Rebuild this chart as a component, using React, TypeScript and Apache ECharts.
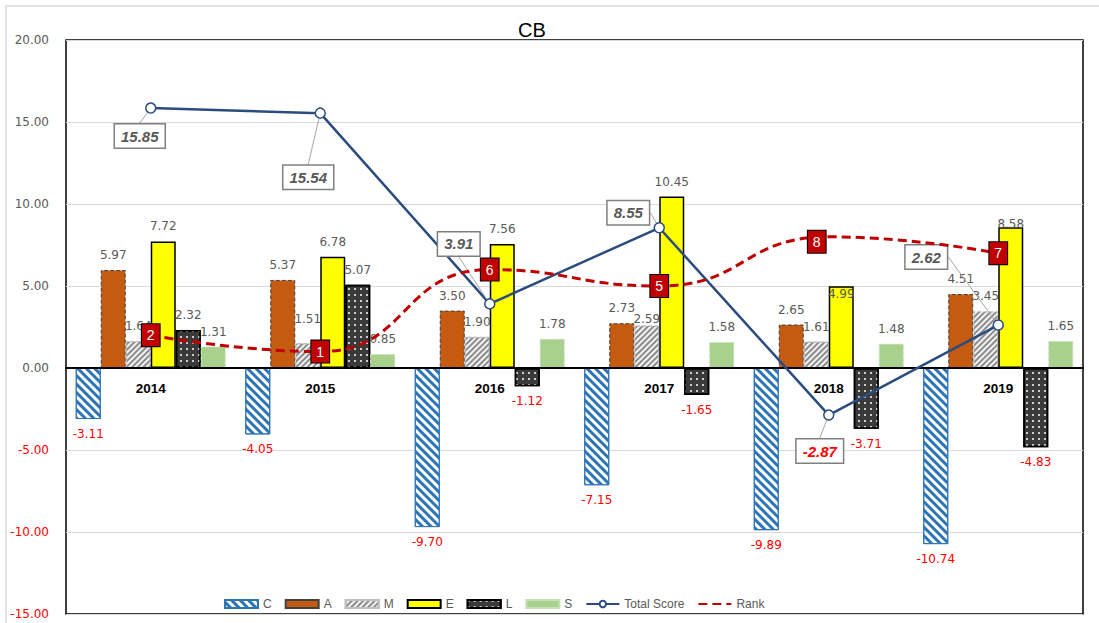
import React, { useEffect, useRef } from 'react';
import * as echarts from 'echarts';

// ---- data ----
const years = ['2014', '2015', '2016', '2017', '2018', '2019'];
const cValues = [-3.11, -4.05, -9.7, -7.15, -9.89, -10.74];
const aValues = [5.97, 5.37, 3.5, 2.73, 2.65, 4.51];
const mValues = [1.64, 1.51, 1.9, 2.59, 1.61, 3.45];
const eValues = [7.72, 6.78, 7.56, 10.45, 4.99, 8.58];
const lValues = [2.32, 5.07, -1.12, -1.65, -3.71, -4.83];
const sValues = [1.31, 0.85, 1.78, 1.58, 1.48, 1.65];
const totalScore = [15.85, 15.54, 3.91, 8.55, -2.87, 2.62];
const rankValues = [2, 1, 6, 5, 8, 7];
const yMin = -15;
const yMax = 20;
const yStep = 5;

// ---- label placement tweaks (styling, not data) ----
const totalLabelShift: number[][] = [[-11, 28], [-12, 64], [-31, -60], [-31, -15], [-9, 36], [-72, -68]];
const rankLabelShift: number[][] = [[0, 0], [0, 0], [0, 0], [0, 0], [-12, 5], [0, 0]];
const mNudge: Record<number, number[]> = { 1: [0, -9], 3: [0, 8] };
const eNudge: Record<number, number[]> = { 4: [0, 23], 5: [0, 12] };

const NAVY = '#2B4C7E';
const RED = '#C00000';
const GRAY_TXT = '#595959';
const GRID_TOP = 40;
const GRID_BOTTOM = 9;
const CHART_H = 623;

const fmt2 = (v: any) => Number(v).toFixed(2);

function barSeries(name: string, values: number[], itemStyle: any, nudges: Record<number, number[]> = {}) {
  return {
    type: 'bar',
    name,
    barWidth: 25,
    barGap: '0%',
    z: 2,
    itemStyle,
    label: {
      show: true,
      fontFamily: 'DejaVu Sans',
      fontSize: 12,
      distance: 9,
      formatter: (p: any) => fmt2(p.value),
    },
    data: values.map((v, i) => ({
      value: v,
      label: {
        position: v < 0 ? 'bottom' : 'top',
        color: v < 0 ? '#FF0000' : GRAY_TXT,
        offset: nudges[i] || [0, 0],
      },
    })),
  };
}

export default function App() {
  const ref = useRef<HTMLDivElement>(null);
  useEffect(() => {
    if (!ref.current) return;
    const chart = echarts.init(ref.current, undefined, { renderer: 'svg' });
    // category labels sit just under the zero line (ECharts 6 keeps them at the grid edge)
    const plotH = CHART_H - GRID_TOP - GRID_BOTTOM;
    const zeroFromBottom = (-yMin / (yMax - yMin)) * plotH;
    const option: any = {
      animation: false,
      backgroundColor: '#fff',
      title: {
        text: 'CB',
        left: 527,
        top: 15,
        textAlign: 'center',
        textStyle: { fontSize: 20, fontWeight: 'normal', color: '#000', fontFamily: 'Liberation Sans' },
      },
      graphic: [
        {
          type: 'rect',
          silent: true,
          z: -10,
          shape: { x: 6, y: 6, width: 1100, height: 620 },
          style: { fill: 'none', stroke: '#D9D9D9', lineWidth: 1.5 },
        },
      ],
      legend: {
        left: 219,
        top: 593,
        itemWidth: 33,
        itemHeight: 8,
        itemGap: 13,
        textStyle: { color: GRAY_TXT, fontSize: 12, fontFamily: 'Liberation Sans' },
        data: [
          { name: 'C', icon: 'rect' },
          { name: 'A', icon: 'rect' },
          { name: 'M', icon: 'rect' },
          { name: 'E', icon: 'rect' },
          { name: 'L', icon: 'rect' },
          { name: 'S', icon: 'rect' },
          'Total Score',
          { name: 'Rank', itemStyle: { opacity: 0 } },
        ],
      },
      grid: {
        left: 66,
        right: 16,
        top: GRID_TOP,
        bottom: GRID_BOTTOM,
        outerBoundsMode: 'none',
        containLabel: false,
        show: true,
        borderColor: '#000',
        borderWidth: 1.5,
        backgroundColor: 'transparent',
      },
      xAxis: {
        type: 'category',
        data: years,
        z: 3,
        axisLine: { onZero: true, lineStyle: { color: '#000', width: 2 } },
        axisTick: { show: false },
        axisLabel: {
          fontWeight: 'bold',
          fontSize: 13.5,
          color: '#000',
          fontFamily: 'Liberation Sans',
          margin: 13 - zeroFromBottom,
        },
        splitLine: { show: false },
      },
      yAxis: {
        type: 'value',
        min: yMin,
        max: yMax,
        interval: yStep,
        axisLine: { show: false },
        axisTick: { show: false },
        splitLine: { lineStyle: { color: '#D9D9D9', width: 1 } },
        axisLabel: {
          formatter: (v: number) => fmt2(v),
          color: (v: any) => (Number(v) < 0 ? '#FF0000' : GRAY_TXT),
          fontFamily: 'DejaVu Sans',
          fontSize: 12,
          margin: 17,
        },
      },
      series: [
        barSeries('C', cValues, {
          color: '#FFFFFF',
          borderColor: '#2E75B6',
          borderWidth: 1,
          decal: { symbol: 'rect', symbolSize: 1, dashArrayX: [1, 0], dashArrayY: [3, 3], rotation: Math.PI / 4, color: '#2E75B6' },
        }),
        barSeries('A', aValues, {
          color: '#C55A11',
          borderColor: '#404040',
          borderWidth: 1,
          borderType: 'dashed',
        }),
        barSeries('M', mValues, {
          color: '#F2F2F2',
          borderColor: '#BFBFBF',
          borderWidth: 1,
          borderType: 'dashed',
          decal: { symbol: 'rect', symbolSize: 1, dashArrayX: [1, 0], dashArrayY: [1.2, 1.8], rotation: -Math.PI / 4, color: '#8C8C8C' },
        }, mNudge),
        barSeries('E', eValues, {
          color: '#FFFF00',
          borderColor: '#000',
          borderWidth: 1.5,
        }, eNudge),
        barSeries('L', lValues, {
          color: '#3A3A3A',
          borderColor: '#000',
          borderWidth: 1.5,
          decal: { symbol: 'rect', symbolSize: 1, dashArrayX: [1.5, 4], dashArrayY: [1.5, 3.5], color: 'rgba(255,255,255,0.75)' },
        }),
        barSeries('S', sValues, {
          color: '#A9D18E',
          borderColor: '#C5E0B4',
          borderWidth: 1,
          borderType: 'dashed',
        }),
        {
          type: 'line',
          name: 'Total Score',
          z: 5,
          symbol: 'circle',
          symbolSize: 10,
          itemStyle: { color: '#FFFFFF', borderColor: NAVY, borderWidth: 1.5 },
          lineStyle: { color: NAVY, width: 2.5 },
          label: {
            show: true,
            position: 'inside',
            formatter: (p: any) => fmt2(p.value),
            fontFamily: 'Liberation Sans',
            fontSize: 15,
            fontWeight: 'bold',
            fontStyle: 'italic',
            color: GRAY_TXT,
            backgroundColor: '#FFFFFF',
            borderColor: '#7F7F7F',
            borderWidth: 1.5,
            padding: [4, 6],
          },
          labelLayout: (p: any) => ({ dx: totalLabelShift[p.dataIndex][0], dy: totalLabelShift[p.dataIndex][1] }),
          labelLine: { show: true, lineStyle: { color: '#A6A6A6', width: 1 } },
          data: totalScore.map((v) => ({ value: v, label: { color: v < 0 ? '#FF0000' : GRAY_TXT } })),
        },
        {
          type: 'line',
          name: 'Rank',
          z: 6,
          smooth: 0.5,
          symbol: 'rect',
          symbolSize: 2,
          itemStyle: { color: RED },
          lineStyle: { color: RED, width: 3, type: [9, 5] },
          label: {
            show: true,
            position: 'inside',
            color: '#FFFFFF',
            backgroundColor: RED,
            borderColor: '#000',
            borderWidth: 1,
            padding: [4, 5],
            fontSize: 14,
            fontFamily: 'Liberation Sans',
          },
          data: rankValues.map((v, i) => ({ value: v, label: { offset: rankLabelShift[i] } })),
        },
      ],
    };
    chart.setOption(option);
    return () => chart.dispose();
  }, []);
  return <div ref={ref} style={{ position: 'fixed', left: 0, top: 0, width: 1099, height: 623 }} />;
}
